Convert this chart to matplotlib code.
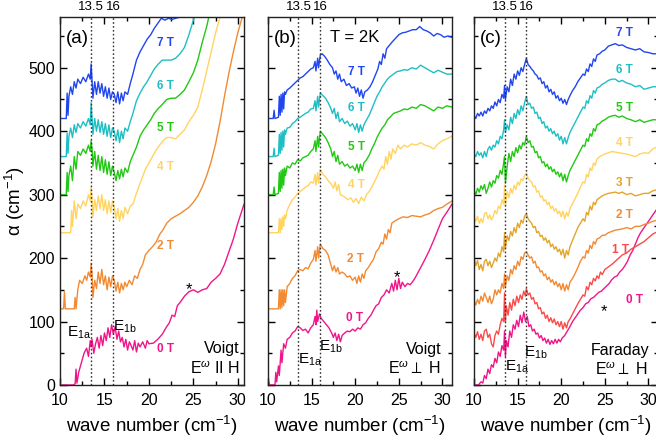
import matplotlib
matplotlib.use('Agg')
import matplotlib.pyplot as plt
from matplotlib.ticker import MultipleLocator

plt.rcParams['font.family'] = ['Liberation Sans', 'DejaVu Sans']
plt.rcParams['mathtext.fontset'] = 'custom'
plt.rcParams['mathtext.rm'] = 'Liberation Sans'
plt.rcParams['mathtext.it'] = 'Liberation Sans:italic'
plt.rcParams['mathtext.bf'] = 'Liberation Sans:bold'

# ---- panel (a): Voigt, E || H ----
a0_x = [10, 11.5, 11.7, 11.8, 11.9, 12.1, 12.4, 12.7, 13.0, 13.2, 13.4, 13.5, 13.6, 13.8, 14.0, 14.2, 14.4, 14.6, 14.8, 15.0,
        15.2, 15.4, 15.6, 15.8, 16.0, 16.2, 16.4, 16.6, 16.8, 17.0, 17.2, 17.4, 17.6, 17.8, 18.0, 18.2, 18.4, 18.6, 18.8, 19.0,
        19.3, 19.6, 19.8, 20.0, 20.5, 21.0, 21.5, 22.0, 22.3, 22.6, 22.9, 23.2, 23.5, 24.0, 24.5, 25.0, 25.5, 26.0, 26.5, 27.0,
        27.5, 28.0, 28.5, 29.0, 29.5, 30.0, 30.7]
a0_y = [0, 0, 2, 25, 3, 20, 35, 50, 58, 45, 70, 60, 72, 50, 65, 75, 58, 78, 62, 82,
        70, 90, 75, 95, 80, 92, 72, 85, 68, 75, 60, 72, 55, 68, 62, 55, 70, 52, 66, 60,
        68, 58, 70, 65, 66, 72, 80, 92, 98, 110, 108, 125, 130, 140, 147, 150, 146, 150, 152, 162,
        168, 175, 190, 210, 230, 255, 285]

a2_x = [10, 10.4, 10.5, 10.6, 11.6, 11.7, 11.8, 12.0, 12.2, 12.5, 12.8, 13.0, 13.2, 13.4, 13.5, 13.6, 13.7, 13.9, 14.1, 14.3,
        14.5, 14.7, 14.9, 15.1, 15.3, 15.5, 15.7, 15.9, 16.1, 16.3, 16.5, 16.7, 16.9, 17.1, 17.3, 17.5, 17.8, 18.1, 18.4, 18.7,
        19.0, 19.3, 19.6, 20.0, 20.4, 20.8, 21.2, 21.6, 22.0, 22.5, 23.0, 23.5, 24.0, 24.5, 25.0, 25.5, 26.0, 26.5, 27.0, 27.5,
        28.0, 28.5, 29.0, 29.5, 30.0, 30.7]
a2_y = [120, 120, 147, 120, 120, 138, 120, 150, 165, 160, 172, 165, 178, 170, 192, 175, 138, 165, 152, 178,
        160, 182, 158, 172, 150, 170, 155, 172, 165, 148, 162, 145, 160, 150, 162, 155, 165, 158, 172, 168,
        182, 190, 205, 212, 218, 225, 237, 245, 255, 262, 266, 270, 275, 280, 288, 298, 312, 330, 352, 380,
        415, 455, 492, 525, 555, 590]

a4_x = [10, 11.2, 11.3, 11.4, 11.6, 11.8, 12.0, 12.3, 12.6, 12.9, 13.2, 13.4, 13.5, 13.6, 13.7, 13.9, 14.1, 14.3, 14.5, 14.7,
        14.9, 15.1, 15.3, 15.5, 15.7, 15.9, 16.1, 16.3, 16.5, 16.7, 16.9, 17.1, 17.3, 17.6, 17.9, 18.2, 18.5, 18.8, 19.2, 19.6,
        20.0, 20.4, 20.8, 21.2, 21.6, 22.0, 22.5, 23.0, 23.5, 24.0, 24.5, 25.0, 25.5, 26.0, 26.5, 27.0, 27.5, 28.0, 28.3]
a4_y = [240, 240, 275, 250, 290, 262, 285, 278, 290, 282, 300, 290, 312, 295, 265, 292, 275, 298, 278, 300,
        275, 292, 270, 290, 272, 290, 280, 262, 278, 258, 275, 262, 280, 270, 282, 285, 298, 310, 325, 340,
        350, 360, 370, 378, 385, 390, 390, 388, 395, 402, 415, 425, 438, 465, 495, 525, 555, 580, 590]

a5_x = [10, 10.7, 10.8, 10.9, 11.0, 11.2, 11.4, 11.6, 11.8, 12.0, 12.3, 12.6, 12.9, 13.2, 13.4, 13.5, 13.6, 13.7, 13.9, 14.1,
        14.3, 14.5, 14.7, 14.9, 15.1, 15.3, 15.5, 15.7, 15.9, 16.1, 16.3, 16.5, 16.7, 16.9, 17.1, 17.3, 17.6, 17.9, 18.2, 18.6,
        19.0, 19.4, 19.8, 20.2, 20.6, 21.0, 21.5, 22.0, 22.5, 23.0, 23.5, 24.0, 24.5, 25.0, 25.5, 26.0, 26.5, 26.9]
a5_y = [300, 300, 335, 305, 330, 345, 322, 360, 340, 368, 362, 372, 365, 378, 368, 385, 372, 345, 368, 340,
        362, 338, 360, 335, 355, 332, 352, 330, 345, 335, 322, 338, 325, 340, 328, 342, 335, 352, 362, 375,
        392, 402, 410, 418, 428, 435, 442, 450, 452, 452, 458, 465, 478, 492, 512, 540, 565, 590]

a6_x = [10, 10.7, 10.8, 10.9, 11.0, 11.2, 11.4, 11.6, 11.8, 12.0, 12.3, 12.6, 12.9, 13.2, 13.4, 13.5, 13.6, 13.7, 13.9, 14.1,
        14.3, 14.5, 14.7, 14.9, 15.1, 15.3, 15.5, 15.7, 15.9, 16.1, 16.3, 16.5, 16.7, 16.9, 17.1, 17.3, 17.6, 17.9, 18.2, 18.6,
        19.0, 19.4, 19.8, 20.2, 20.6, 21.0, 21.5, 22.0, 22.5, 23.0, 23.5, 24.0, 24.5, 25.0, 25.3]
a6_y = [360, 360, 397, 365, 392, 405, 390, 410, 398, 412, 405, 415, 408, 420, 410, 445, 420, 395, 420, 400,
        418, 398, 415, 395, 412, 392, 410, 390, 405, 400, 385, 402, 382, 400, 388, 405, 400, 415, 428, 448,
        460, 470, 478, 488, 498, 505, 512, 512, 512, 515, 522, 532, 552, 575, 590]

a7_x = [10, 10.7, 10.8, 10.9, 11.0, 11.2, 11.4, 11.6, 11.8, 12.0, 12.3, 12.6, 12.9, 13.2, 13.4, 13.5, 13.6, 13.7, 13.9, 14.1,
        14.3, 14.5, 14.7, 14.9, 15.1, 15.3, 15.5, 15.7, 15.9, 16.1, 16.3, 16.5, 16.7, 16.9, 17.1, 17.3, 17.6, 17.9, 18.2, 18.6,
        19.0, 19.4, 19.8, 20.2, 20.6, 21.0, 21.4, 21.8, 22.2, 22.6, 23.0, 23.3]
a7_y = [420, 420, 460, 425, 455, 470, 458, 478, 468, 482, 475, 485, 478, 490, 482, 506, 480, 452, 478, 458,
        478, 460, 475, 455, 470, 452, 468, 450, 462, 458, 445, 462, 443, 460, 448, 462, 458, 475, 490, 512,
        525, 535, 545, 552, 562, 570, 578, 575, 578, 576, 578, 579]

# ---- panel (b): Voigt, E perp H ----
b0_x = [10, 10.2, 10.8, 10.9, 11.0, 11.2, 11.3, 11.5, 11.6, 11.8, 12.0, 12.2, 12.5, 12.8, 13.1, 13.4, 13.7, 14.0, 14.3, 14.6,
        14.9, 15.2, 15.4, 15.5, 15.6, 15.7, 15.9, 16.1, 16.4, 16.7, 17.0, 17.3, 17.5, 17.7, 17.9, 18.1, 18.3, 18.5, 18.8, 19.1,
        19.4, 19.7, 20.0, 20.3, 20.6, 20.9, 21.2, 21.5, 21.8, 22.1, 22.4, 22.7, 23.0, 23.3, 23.6, 23.9, 24.2, 24.4, 24.6, 24.8,
        25.0, 25.2, 25.4, 25.7, 26.0, 26.3, 26.7, 27.0, 27.5, 28.0, 28.5, 29.0, 29.5, 30.0, 30.5, 31.1]
b0_y = [8, 0, 0, 20, 5, 30, 15, 55, 35, 65, 58, 72, 75, 82, 85, 92, 90, 86, 88, 82,
        90, 95, 108, 95, 118, 100, 112, 105, 100, 95, 90, 82, 75, 82, 70, 80, 68, 78, 82, 85,
        84, 88, 85, 90, 88, 95, 98, 105, 110, 118, 125, 128, 138, 142, 150, 145, 160, 148, 165, 150,
        168, 152, 162, 155, 160, 158, 165, 172, 185, 198, 212, 228, 245, 262, 272, 285]

b2_x = [10, 10.05, 11.2, 11.3, 11.4, 11.5, 11.6, 11.7, 11.8, 11.9, 12.0, 12.2, 12.5, 12.8, 13.1, 13.4, 13.7, 14.0, 14.3, 14.6,
        14.9, 15.2, 15.4, 15.5, 15.7, 15.8, 16.0, 16.3, 16.6, 16.9, 17.2, 17.4, 17.6, 17.8, 18.0, 18.2, 18.5, 18.8, 19.1, 19.4,
        19.7, 20.0, 20.2, 20.4, 20.6, 20.8, 21.0, 21.2, 21.5, 21.8, 22.1, 22.4, 22.7, 23.0, 23.2, 23.4, 23.6, 23.8, 24.0, 24.2,
        24.5, 25.0, 25.5, 26.0, 26.5, 27.0, 27.5, 28.0, 28.5, 29.0, 29.5, 30.0, 30.5, 31.1]
b2_y = [140, 120, 120, 150, 120, 150, 122, 150, 125, 150, 130, 155, 160, 168, 172, 180, 182, 180, 185, 183,
        192, 198, 212, 195, 218, 200, 222, 215, 212, 205, 190, 180, 188, 178, 185, 175, 178, 175, 170, 172,
        165, 170, 160, 172, 162, 175, 168, 180, 185, 192, 198, 210, 215, 225, 222, 238, 230, 245, 240, 255,
        258, 262, 265, 264, 267, 266, 265, 268, 270, 275, 278, 280, 285, 290]

b4_x = [10, 11.2, 11.3, 11.4, 11.5, 11.6, 11.7, 11.8, 11.9, 12.0, 12.2, 12.5, 12.8, 13.1, 13.4, 13.7, 14.0, 14.3, 14.6, 14.9,
        15.2, 15.4, 15.5, 15.7, 15.8, 16.0, 16.3, 16.6, 16.9, 17.2, 17.5, 17.7, 17.9, 18.1, 18.3, 18.6, 18.9, 19.2, 19.5, 19.8,
        20.1, 20.4, 20.7, 21.0, 21.3, 21.6, 21.9, 22.2, 22.5, 22.8, 23.1, 23.3, 23.5, 23.7, 23.9, 24.1, 24.3, 24.6, 24.9, 25.2,
        25.6, 26.0, 26.5, 27.0, 27.5, 28.0, 28.5, 29.0, 29.5, 30.0, 30.5, 31.1]
b4_y = [240, 240, 262, 240, 262, 245, 265, 250, 268, 262, 275, 285, 292, 296, 302, 305, 308, 312, 314, 320,
        318, 332, 315, 335, 318, 340, 332, 328, 322, 318, 310, 320, 306, 316, 300, 298, 295, 292, 295, 288,
        294, 286, 296, 290, 300, 305, 312, 320, 328, 338, 345, 340, 360, 348, 368, 356, 372, 365, 378, 372,
        378, 375, 380, 378, 382, 378, 376, 372, 380, 385, 388, 392]

# shared wavenumber grid for the 5 T and 6 T Voigt traces
b56_x = [10, 10.6, 10.7, 10.8, 11.2, 11.3, 11.4, 11.5, 11.6, 11.7, 11.8, 11.9, 12.0, 12.2, 12.5, 12.8, 13.1, 13.4, 13.7, 14.0,
         14.3, 14.6, 14.9, 15.2, 15.4, 15.5, 15.7, 15.8, 16.0, 16.3, 16.6, 16.9, 17.2, 17.4, 17.6, 17.8, 18.0, 18.2, 18.5, 18.8,
         19.1, 19.4, 19.7, 20.0, 20.2, 20.4, 20.6, 20.8, 21.0, 21.3, 21.6, 21.9, 22.2, 22.5, 22.8, 23.1, 23.4, 23.7, 24.0, 24.4,
         24.8, 25.2, 25.6, 26.0, 26.5, 27.0, 27.5, 28.0, 28.5, 29.0, 29.5, 30.0, 30.5, 31.1]
b5_y = [300, 300, 312, 300, 302, 335, 305, 338, 310, 340, 315, 342, 330, 345, 342, 350, 348, 355, 353, 358,
        360, 362, 368, 372, 385, 368, 392, 375, 400, 395, 390, 382, 372, 360, 368, 352, 362, 348, 352, 345,
        348, 342, 345, 338, 348, 335, 348, 338, 350, 355, 362, 372, 380, 390, 398, 405, 410, 418, 422, 428,
        430, 432, 435, 434, 438, 436, 442, 440, 436, 432, 438, 436, 440, 438]
b6_y = [360, 360, 373, 360, 362, 395, 365, 398, 370, 400, 375, 402, 395, 405, 406, 412, 415, 420, 422, 425,
        428, 430, 435, 436, 448, 432, 455, 438, 460, 456, 452, 445, 436, 428, 436, 420, 430, 415, 420, 412,
        416, 408, 412, 402, 412, 398, 410, 400, 410, 418, 425, 435, 445, 455, 462, 470, 476, 482, 486, 490,
        494, 495, 497, 496, 500, 498, 504, 500, 496, 492, 496, 493, 490, 490]

b7_x = [10, 10.6, 10.7, 10.8, 11.2, 11.3, 11.4, 11.5, 11.6, 11.7, 11.8, 11.9, 12.0, 12.2, 12.5, 12.8, 13.1, 13.4, 13.7, 14.0,
        14.3, 14.6, 14.9, 15.2, 15.4, 15.5, 15.7, 15.8, 16.0, 16.2, 16.5, 16.8, 17.1, 17.4, 17.6, 17.8, 18.0, 18.2, 18.4, 18.7,
        19.0, 19.3, 19.6, 19.9, 20.1, 20.3, 20.5, 20.7, 20.9, 21.1, 21.4, 21.7, 22.0, 22.3, 22.6, 22.8, 23.0, 23.2, 23.4, 23.6,
        23.9, 24.2, 24.6, 25.0, 25.4, 25.8, 26.2, 26.6, 27.0, 27.4, 27.8, 28.2, 28.6, 29.0, 29.4, 29.8, 30.2, 30.6, 31.1]
b7_y = [420, 420, 433, 420, 422, 455, 425, 458, 430, 460, 435, 462, 458, 465, 468, 472, 476, 480, 484, 486,
        490, 494, 498, 500, 510, 495, 515, 500, 520, 522, 518, 512, 505, 500, 490, 495, 482, 490, 478, 482,
        472, 475, 468, 470, 460, 468, 455, 465, 452, 462, 465, 470, 478, 488, 498, 510, 505, 522, 515, 530,
        535, 540, 546, 552, 555, 556, 558, 560, 560, 565, 560, 558, 555, 550, 554, 552, 548, 550, 548]

# ---- panel (c): Faraday, E perp H ----
c0_x = [10, 10.5, 10.8, 11.0, 11.2, 11.4, 11.6, 11.8, 12.0, 12.2, 12.4, 12.6, 12.8, 13.0, 13.2, 13.4, 13.5, 13.6, 13.7, 13.9,
        14.1, 14.3, 14.5, 14.7, 14.9, 15.1, 15.3, 15.5, 15.7, 15.9, 16.1, 16.3, 16.5, 16.7, 16.9, 17.1, 17.3, 17.5, 17.7, 17.9,
        18.1, 18.3, 18.5, 18.7, 18.9, 19.1, 19.3, 19.5, 19.7, 19.9, 20.1, 20.4, 20.7, 21.0, 21.3, 21.6, 21.9, 22.2, 22.5, 22.8,
        23.1, 23.4, 23.7, 24.0, 24.3, 24.6, 24.9, 25.2, 25.5, 25.8, 26.1, 26.4, 26.7, 27.0, 27.3, 27.6, 27.9, 28.2, 28.5, 28.8,
        29.1, 29.4, 29.7, 30.0, 30.4, 30.8, 31.1]
c0_y = [0, 0, 5, 3, 15, 10, 25, 18, 32, 28, 42, 35, 52, 45, 62, 55, 85, 45, 70, 60,
        85, 75, 95, 88, 102, 92, 110, 98, 115, 100, 108, 92, 95, 85, 88, 80, 82, 74, 78, 70,
        74, 66, 72, 64, 70, 65, 72, 66, 72, 68, 74, 78, 85, 92, 100, 106, 112, 118, 122, 128,
        130, 136, 138, 142, 146, 148, 152, 156, 160, 166, 170, 172, 178, 182, 188, 195, 205, 212, 222, 232,
        240, 246, 252, 258, 266, 274, 280]

c1_x = [10, 10.2, 10.4, 10.6, 10.8, 11.0, 11.2, 11.4, 11.6, 11.8, 12.0, 12.2, 12.4, 12.6, 12.8, 13.0, 13.2, 13.4, 13.5, 13.6,
        13.7, 13.9, 14.1, 14.3, 14.5, 14.7, 14.9, 15.1, 15.3, 15.5, 15.7, 15.9, 16.0, 16.2, 16.4, 16.6, 16.8, 17.0, 17.2, 17.4,
        17.6, 17.8, 18.0, 18.2, 18.4, 18.6, 18.8, 19.0, 19.2, 19.4, 19.6, 19.8, 20.0, 20.2, 20.4, 20.6, 20.8, 21.0, 21.3, 21.6,
        21.9, 22.2, 22.5, 22.7, 22.9, 23.1, 23.3, 23.5, 23.7, 23.9, 24.1, 24.3, 24.5, 24.7, 25.0, 25.4, 25.8, 26.2, 26.6, 27.0,
        27.5, 28.0, 28.5, 29.0, 29.5, 30.0, 30.5, 31.1]
c1_y = [82, 75, 84, 72, 80, 70, 85, 88, 75, 80, 65, 60, 78, 85, 80, 95, 105, 100, 145, 100,
        125, 110, 130, 118, 135, 125, 140, 130, 142, 135, 148, 140, 152, 142, 145, 135, 138, 128, 130, 120,
        122, 112, 115, 105, 110, 100, 106, 98, 104, 95, 100, 92, 100, 88, 98, 90, 100, 104, 112, 120,
        128, 135, 142, 140, 155, 150, 162, 158, 168, 164, 172, 168, 178, 174, 182, 186, 190, 195, 200, 205,
        208, 214, 218, 222, 226, 232, 238, 242]

# shared wavenumber grid for the 2 T ... 7 T Faraday traces
c_x = [10, 10.2, 10.4, 10.6, 10.8, 11.0, 11.2, 11.4, 11.6, 11.8, 12.0, 12.2, 12.4, 12.6, 12.8, 13.0, 13.2, 13.4, 13.5, 13.6,
       13.8, 14.0, 14.2, 14.4, 14.6, 14.8, 15.0, 15.2, 15.4, 15.6, 15.8, 16.0, 16.2, 16.4, 16.6, 16.8, 17.0, 17.2, 17.4, 17.6,
       17.8, 18.0, 18.2, 18.4, 18.6, 18.8, 19.0, 19.2, 19.4, 19.6, 19.8, 20.0, 20.2, 20.4, 20.6, 20.8, 21.0, 21.3, 21.6, 21.9,
       22.2, 22.5, 22.7, 22.9, 23.1, 23.3, 23.5, 23.7, 23.9, 24.1, 24.4, 24.7, 25.0, 25.4, 25.8, 26.2, 26.6, 27.0, 27.5, 28.0,
       28.5, 29.0, 29.5, 30.0, 30.5, 31.1]
c2_y = [134, 126, 135, 128, 140, 132, 145, 138, 130, 140, 128, 135, 150, 142, 150, 145, 160, 152, 175, 155,
        172, 165, 182, 175, 188, 182, 195, 188, 202, 198, 208, 210, 205, 200, 202, 192, 195, 185, 186, 178,
        180, 172, 175, 166, 170, 162, 166, 158, 163, 155, 160, 150, 160, 148, 158, 150, 162, 168, 176, 185,
        195, 202, 200, 212, 208, 220, 215, 226, 222, 230, 232, 236, 236, 240, 242, 244, 245, 246, 248, 246,
        250, 250, 253, 255, 258, 260]
c3_y = [202, 188, 196, 182, 190, 180, 195, 198, 188, 195, 185, 192, 200, 195, 208, 202, 218, 210, 240, 215,
        235, 228, 242, 235, 248, 240, 255, 248, 260, 255, 266, 270, 262, 258, 255, 248, 250, 240, 242, 234,
        236, 228, 232, 224, 228, 218, 222, 214, 218, 210, 214, 205, 214, 200, 212, 205, 218, 228, 238, 248,
        255, 262, 258, 272, 268, 282, 276, 288, 284, 292, 295, 298, 300, 302, 303, 304, 302, 304, 300, 302,
        298, 300, 302, 302, 306, 308]
c4_y = [265, 258, 266, 255, 262, 256, 270, 272, 262, 268, 260, 266, 275, 270, 282, 278, 292, 285, 315, 282,
        305, 295, 310, 302, 315, 308, 320, 315, 325, 322, 330, 334, 326, 322, 320, 312, 314, 304, 306, 296,
        298, 290, 292, 284, 288, 278, 282, 274, 278, 270, 274, 265, 274, 262, 272, 266, 278, 286, 294, 302,
        312, 320, 318, 332, 328, 342, 338, 350, 346, 356, 360, 362, 364, 366, 368, 367, 366, 365, 364, 362,
        360, 364, 366, 365, 372, 376]
c5_y = [307, 300, 310, 304, 314, 308, 316, 302, 310, 320, 312, 322, 318, 330, 326, 338, 332, 350, 360, 318,
        345, 365, 352, 368, 360, 374, 366, 378, 372, 382, 378, 392, 382, 385, 375, 376, 366, 368, 358, 360,
        350, 352, 344, 348, 340, 344, 336, 340, 332, 336, 328, 334, 322, 332, 320, 330, 338, 346, 354, 362,
        370, 378, 376, 388, 384, 396, 392, 404, 400, 410, 412, 416, 418, 422, 424, 425, 422, 424, 420, 418,
        415, 418, 414, 416, 418, 418]
c6_y = [365, 360, 368, 362, 366, 358, 368, 360, 372, 376, 370, 378, 375, 385, 380, 392, 388, 402, 418, 398,
        410, 402, 422, 412, 428, 420, 434, 426, 440, 432, 445, 455, 442, 444, 436, 438, 428, 430, 420, 422,
        412, 415, 405, 408, 400, 404, 396, 400, 392, 396, 386, 392, 380, 390, 380, 390, 398, 406, 414, 422,
        430, 438, 436, 448, 444, 456, 452, 464, 460, 468, 470, 474, 476, 480, 482, 482, 478, 480, 476, 474,
        470, 472, 466, 468, 470, 470]
c7_y = [425, 420, 428, 424, 430, 424, 432, 428, 436, 432, 440, 436, 446, 440, 450, 445, 458, 452, 472, 450,
        470, 462, 482, 472, 490, 482, 495, 488, 500, 494, 505, 515, 505, 502, 498, 495, 490, 488, 482, 484,
        475, 478, 468, 472, 462, 466, 458, 462, 452, 456, 448, 452, 444, 450, 442, 450, 456, 464, 470, 478,
        484, 490, 488, 498, 494, 506, 502, 514, 510, 520, 522, 526, 528, 534, 536, 538, 535, 536, 532, 530,
        528, 530, 525, 524, 522, 522]

fields = ['0 T', '1 T', '2 T', '3 T', '4 T', '5 T', '6 T', '7 T']
colors = {'0 T': '#f0168a', '1 T': '#fb4a4a', '2 T': '#f28a32', '3 T': '#e2a52c',
          '4 T': '#ffd460', '5 T': '#22c814', '6 T': '#1ebfc4', '7 T': '#2146f0'}

curves_a = {'0 T': (a0_x, a0_y), '2 T': (a2_x, a2_y), '4 T': (a4_x, a4_y),
            '5 T': (a5_x, a5_y), '6 T': (a6_x, a6_y), '7 T': (a7_x, a7_y)}
curves_b = {'0 T': (b0_x, b0_y), '2 T': (b2_x, b2_y), '4 T': (b4_x, b4_y),
            '5 T': (b56_x, b5_y), '6 T': (b56_x, b6_y), '7 T': (b7_x, b7_y)}
curves_c = {'0 T': (c0_x, c0_y), '1 T': (c1_x, c1_y), '2 T': (c_x, c2_y), '3 T': (c_x, c3_y),
            '4 T': (c_x, c4_y), '5 T': (c_x, c5_y), '6 T': (c_x, c6_y), '7 T': (c_x, c7_y)}

# where the field tags sit (x, y)
tags_a = {'7 T': (20.9, 539), '6 T': (20.9, 471), '5 T': (20.9, 405), '4 T': (20.9, 343),
          '2 T': (20.9, 219), '0 T': (20.9, 57)}
tags_b = {'7 T': (19.2, 493), '6 T': (19.2, 436), '5 T': (19.2, 375), '4 T': (19.2, 315),
          '2 T': (19.1, 198), '0 T': (18.9, 105)}
tags_c = {'7 T': (26.3, 554), '6 T': (26.3, 496), '5 T': (26.3, 436), '4 T': (26.3, 381),
          '3 T': (26.3, 318), '2 T': (26.3, 268), '1 T': (25.8, 213), '0 T': (27.4, 134)}

dotted = [13.5, 16]

fig = plt.figure(figsize=(6.56, 4.41), dpi=100)
ax_a = fig.add_axes([0.0915, 0.127, 0.2805, 0.8345])
ax_b = fig.add_axes([0.4085, 0.127, 0.2805, 0.8345])
ax_c = fig.add_axes([0.7226, 0.127, 0.2805, 0.8345])

panels = [(ax_a, curves_a, tags_a, (10, 30.7), '(a)'),
          (ax_b, curves_b, tags_b, (10, 31.1), '(b)'),
          (ax_c, curves_c, tags_c, (10, 31.1), '(c)')]

for ax, curves, tags, xl, letter in panels:
    for f in fields:
        if f in curves:
            x, y = curves[f]
            ax.plot(x, y, color=colors[f], lw=1.0)
            tx, ty = tags[f]
            ax.text(tx, ty, f, color=colors[f], fontsize=8.5, fontweight='bold', ha='left', va='center')
    for d in dotted:
        ax.axvline(d, color='#333333', ls=(0, (1.2, 1.6)), lw=1.0)
        ax.text(d, 1.012, str(d), transform=ax.get_xaxis_transform(), ha='center', va='bottom', fontsize=9.5)
    ax.set_xlim(*xl)
    ax.set_ylim(0, 580)
    ax.xaxis.set_major_locator(MultipleLocator(5))
    ax.xaxis.set_minor_locator(MultipleLocator(2.5))
    ax.yaxis.set_major_locator(MultipleLocator(100))
    ax.yaxis.set_minor_locator(MultipleLocator(50))
    ax.tick_params(which='both', direction='in', top=True, right=True, labelsize=11.5, width=1.0)
    ax.tick_params(which='major', length=5)
    ax.tick_params(which='minor', length=3)
    ax.tick_params(axis='x', pad=6)
    for s in ax.spines.values():
        s.set_linewidth(1.0)
        s.set_color('#222222')
    ax.set_xlabel('wave number (cm$^{-1}$)', fontsize=13.5, labelpad=4)
    ax.text(0.03, 0.965, letter, transform=ax.transAxes, ha='left', va='top', fontsize=13.5)

ax_b.tick_params(labelleft=False)
ax_c.tick_params(labelleft=False)
ax_a.set_ylabel('α (cm$^{-1}$)', fontsize=13.5, labelpad=1)

e1a = 'E$_\\mathrm{1a}$'
e1b = 'E$_\\mathrm{1b}$'
par = 'E$^{\\omega}$ II H'
perp = 'E$^{\\omega}$$\\perp$ H'

# annotations panel (a)
ax_a.text(12.1, 82, e1a, fontsize=11, ha='center', va='center')
ax_a.text(17.3, 91, e1b, fontsize=11, ha='center', va='center')
ax_a.text(30.2, 58, 'Voigt', fontsize=11.5, ha='right', va='center')
ax_a.text(30.2, 26, par, fontsize=11.5, ha='right', va='center')
ax_a.text(24.5, 150, '*', fontsize=12, ha='center', va='center')

# annotations panel (b)
ax_b.text(20.0, 548, 'T = 2K', fontsize=12, ha='center', va='center')
ax_b.text(14.8, 39, e1a, fontsize=11, ha='center', va='center')
ax_b.text(17.2, 60, e1b, fontsize=11, ha='center', va='center')
ax_b.text(29.9, 56, 'Voigt', fontsize=11.5, ha='right', va='center')
ax_b.text(29.9, 26, perp, fontsize=11.5, ha='right', va='center')
ax_b.text(24.8, 170, '*', fontsize=12, ha='center', va='center')

# annotations panel (c)
ax_c.text(14.9, 28, e1a, fontsize=11, ha='center', va='center')
ax_c.text(17.1, 50, e1b, fontsize=11, ha='center', va='center')
ax_c.text(26.7, 55, 'Faraday', fontsize=11.5, ha='center', va='center')
ax_c.text(26.9, 24, perp, fontsize=11.5, ha='center', va='center')
ax_c.text(24.9, 116, '*', fontsize=12, ha='center', va='center')

fig.savefig('out.png', dpi=100)
